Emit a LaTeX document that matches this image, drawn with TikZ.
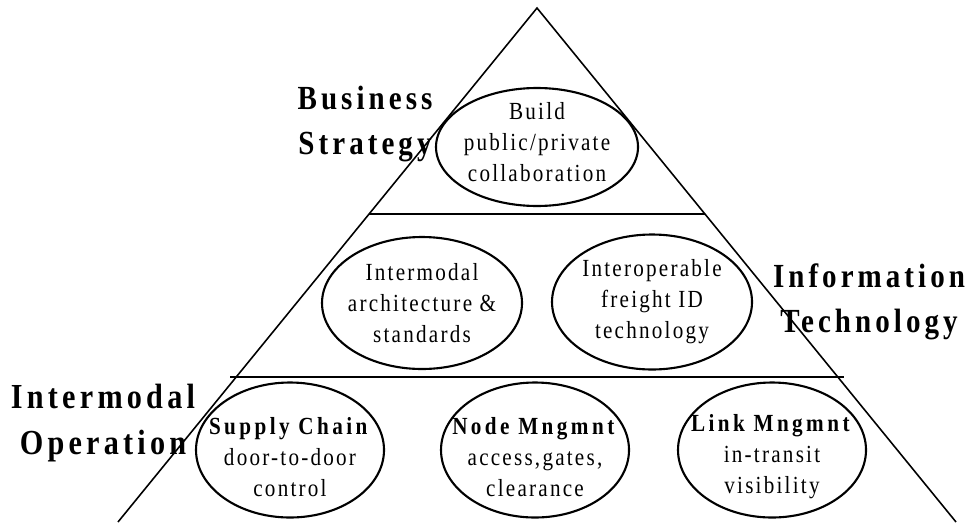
\documentclass[tikz,border=0pt]{standalone}
\usepackage{fontspec}
\setmainfont{Liberation Serif}[FakeStretch=0.86,LetterSpace=12]
\usetikzlibrary{shapes.geometric}

\begin{document}
\begin{tikzpicture}
  [every node/.style={align=center},
   oval/.style={draw,ellipse,line width=.6pt,inner sep=0pt},
   heading/.style={font=\fontsize{9.6}{12.8}\selectfont\bfseries},
   inside/.style={font=\fontsize{7}{8.8}\selectfont\addfontfeatures{LetterSpace=9}}]
  \useasboundingbox (0,0) rectangle (9.71,5.22);

  % pyramid and its two floors
  \coordinate (apex) at (5.37,5.14);
  \coordinate (bl) at (1.18,0);
  \coordinate (br) at (9.56,0);
  \coordinate (f1l) at (3.69,3.08);
  \coordinate (f1r) at (7.05,3.08);
  \coordinate (f2l) at (2.30,1.45);
  \coordinate (f2r) at (8.44,1.45);
  \draw[line width=.45pt] (bl) -- (apex) -- (br);
  \draw[line width=.7pt] (f1l) -- (f1r);
  \draw[line width=.7pt] (f2l) -- (f2r);

  % ovals
  \node (build)[oval,minimum width=2.02cm,minimum height=1.18cm] at (5.37,3.75) {};
  \node (arch)[oval,minimum width=2.0cm,minimum height=1.32cm] at (4.22,2.19) {};
  \node (freight)[oval,minimum width=2.0cm,minimum height=1.35cm] at (6.52,2.20) {};
  \foreach \n/\x in {supply/2.90,nodemg/5.35,linkmg/7.72}
    \node (\n)[oval,minimum width=1.88cm,minimum height=1.35cm] at (\x,0.72) {};

  \node[inside,yshift=.05cm] at (build) {Build\\public/private\\collaboration};
  \node[inside] at (arch) {Intermodal\\architecture \&\\standards};
  \node[inside] at (freight) {Interoperable\\freight ID\\technology};
  \node[inside,yshift=-.07cm] at (supply) {\textbf{\addfontfeatures{LetterSpace=14}Supply Chain}\\door-to-door\\control};
  \node[inside,yshift=-.07cm] at (nodemg) {\textbf{\addfontfeatures{LetterSpace=14}Node Mngmnt}\\access,gates,\\clearance};
  \node[inside,yshift=-.07cm] at (linkmg) {\textbf{\addfontfeatures{LetterSpace=14}Link Mngmnt}\\in-transit\\visibility};

  % side headings
  \node (biz)[heading] at (3.65,3.98) {Business\\Strategy};
  \node (it)[heading] at (8.69,2.20) {Information\\Technology};
  \node (ops)[heading,font=\fontsize{10}{13.2}\selectfont\bfseries] at (1.03,0.99) {Intermodal\\Operation};
\end{tikzpicture}
\end{document}
